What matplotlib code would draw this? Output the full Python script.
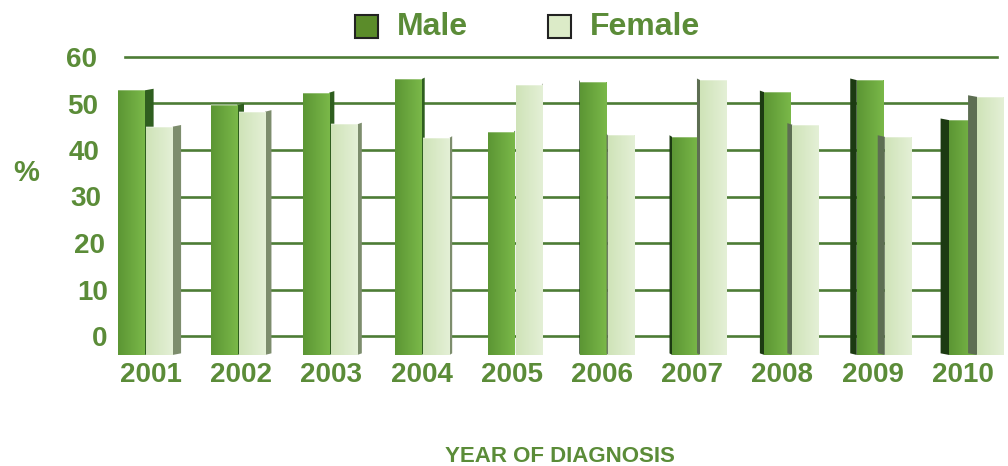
import matplotlib
matplotlib.use("Agg")
import matplotlib.pyplot as plt
from matplotlib.patches import Polygon, Rectangle
from matplotlib.transforms import ScaledTranslation
from matplotlib.colors import LinearSegmentedColormap
import numpy as np

years = ["2001", "2002", "2003", "2004", "2005", "2006", "2007", "2008", "2009", "2010"]
male = [53.9, 50.7, 53.4, 56.3, 44.9, 55.8, 43.9, 53.5, 56.1, 47.5]
female = [46.1, 49.3, 46.6, 43.7, 55.1, 44.2, 56.1, 46.5, 43.9, 52.5]
series_names = ["Male", "Female"]
yticks = [0, 10, 20, 30, 40, 50, 60]

TXT = "#5b8c38"
GRID = "#4d7c35"
M_FRONT = "#6eab40"
M_GRAD = ["#5c9634", "#7ab849"]
M_SIDE_R = "#2f5e1f"
M_SIDE_L = "#1c3a12"
F_FRONT = "#d9eac5"
F_GRAD = ["#cfe3b8", "#e4f0d6"]
F_SIDE_R = "#7d8d6d"
F_SIDE_L = "#5d6e52"

W, H = 1008, 466
fig = plt.figure(figsize=(W / 100, H / 100), dpi=100)
ax_l, ax_r, ax_b, ax_t = 125, 997, 336, 57
ax = fig.add_axes([ax_l / W, 1 - ax_b / H, (ax_r - ax_l) / W, (ax_b - ax_t) / H])

x = np.arange(len(years))
xmin, xmax = -0.222, 9.225

for t in yticks:
    ax.axhline(t, color=GRID, lw=1.9, zorder=1, clip_on=False)

bw = 0.285
off = 0.152
drop = ScaledTranslation(0, -5 / 100, fig.dpi_scale_trans)
base = -3.0
center = 4.49
grad = np.linspace(0, 1, 64).reshape(1, -1)

def draw_series(xs, vals, front, gcols, side_r, side_l, z):
    cmap = LinearSegmentedColormap.from_list("g", gcols)
    bars = ax.bar(xs, [v - base for v in vals], bottom=base, width=bw,
                  color=front, edgecolor="none", zorder=z + 1, clip_on=False)
    for b in bars:
        b.set_transform(ax.transData + drop)
        x0 = b.get_x()
        x1 = x0 + b.get_width()
        xc = (x0 + x1) / 2
        y0 = b.get_y()
        y1 = y0 + b.get_height()
        im = ax.imshow(grad, cmap=cmap, extent=[x0, x1, y0, y1], aspect="auto",
                       zorder=z + 1.2, interpolation="bilinear")
        im.set_transform(ax.transData + drop)
        im.set_clip_path(b)
        ws = 0.021 * abs(xc - center)
        rise = 0.35
        if xc < center:
            pts = [(x1, y0), (x1 + ws, y0 + rise), (x1 + ws, y1 + rise), (x1, y1)]
            col = side_r
        else:
            pts = [(x0, y0), (x0 - ws, y0 + rise), (x0 - ws, y1 + rise), (x0, y1)]
            col = side_l
        poly = Polygon(pts, closed=True, facecolor=col, edgecolor="none",
                       zorder=z, clip_on=False, transform=ax.transData + drop)
        ax.add_patch(poly)
        ax.plot([x0, x1], [y1, y1], color="white", alpha=0.35, lw=1.2,
                zorder=z + 1.5, clip_on=False, transform=ax.transData + drop,
                solid_capstyle="butt")
    return bars

draw_series(x - off, male, M_FRONT, M_GRAD, M_SIDE_R, M_SIDE_L, 3)
draw_series(x + off, female, F_FRONT, F_GRAD, F_SIDE_R, F_SIDE_L, 5)

ax.set_xlim(xmin, xmax)
ax.set_ylim(0, 60)

for s in ax.spines.values():
    s.set_visible(False)

ax.set_xticks(x)
ax.set_xticklabels(years, fontsize=20, fontweight="bold", color=TXT,
                   family="Liberation Sans")
ax.tick_params(axis="x", length=0, pad=19)
for i, lab in enumerate(ax.get_xticklabels()):
    dx = 5.5 - 2.1 * i
    lab.set_transform(lab.get_transform() + ScaledTranslation(dx / 100, 0, fig.dpi_scale_trans))

ax.set_yticks(yticks)
ax.set_yticklabels([str(t) for t in yticks], fontsize=20, fontweight="bold",
                   color=TXT, family="Liberation Sans")
ax.tick_params(axis="y", length=0, pad=12.5)
yshift = [0, 0, -3, -6, -8, -10, -11]
for lab, dx in zip(ax.get_yticklabels(), yshift):
    lab.set_transform(lab.get_transform() + ScaledTranslation(dx / 100, 0, fig.dpi_scale_trans))

fig.text(26 / W, 1 - 173 / H, "%", fontsize=21, fontweight="bold", color=TXT,
         family="Liberation Sans", ha="center", va="center")
fig.text(560 / W, 1 - 457 / H, "YEAR OF DIAGNOSIS", fontsize=16, fontweight="bold",
         color=TXT, family="Liberation Sans", ha="center", va="center")

leg = [(355, "#5b8c2a", 397), (548, "#dcebc8", 590)]
for (sx, fc, tx), name in zip(leg, series_names):
    fig.add_artist(Rectangle((sx / W, 1 - 38 / H), 23 / W, 23 / H, transform=fig.transFigure,
                             facecolor=fc, edgecolor="#222222", lw=1.5))
    fig.text(tx / W, 1 - 27 / H, name, fontsize=23, fontweight="bold", color=TXT,
             family="Liberation Sans", ha="left", va="center")

fig.savefig("out.png", dpi=100)
